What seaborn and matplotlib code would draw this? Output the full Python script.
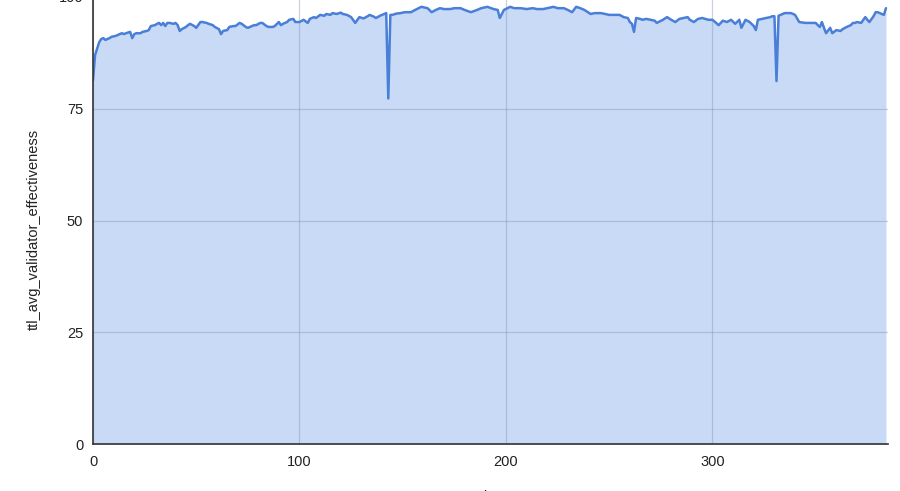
import matplotlib
matplotlib.use("Agg")
import matplotlib.pyplot as plt
import seaborn as sns
import pandas as pd

# Readings from the reference chart
x_vals = [0, 1, 3, 4, 5, 6, 8, 9, 11, 12, 14, 15, 16, 18, 19, 20, 21, 23, 24, 26,
          27, 28, 30, 31, 32, 33, 34, 35, 36, 37, 39, 40, 41, 42, 43, 45, 46, 47, 49, 50,
          52, 53, 55, 56, 58, 59, 61, 62, 63, 65, 66, 68, 69, 71, 72, 74, 75, 77, 78, 79,
          81, 82, 84, 85, 87, 88, 90, 91, 92, 94, 95, 97, 98, 100, 102, 104, 105, 107, 108, 110,
          112, 113, 115, 116, 118, 120, 121, 123, 125, 127, 129, 131, 133, 134, 136, 137, 139, 140, 142, 143,
          144, 145, 147, 149, 151, 154, 156, 159, 162, 164, 166,
          168, 170, 173, 175, 178, 180, 183, 186, 188, 191, 194, 196, 197, 199, 202, 204, 207, 210, 213, 215,
          218, 220, 223, 225, 228, 230, 232, 234, 236, 238, 241, 243, 246, 248, 250, 253, 255, 257, 259, 260,
          261, 262, 263, 265, 266, 268, 270, 272, 273, 276, 278, 280, 282, 284, 286, 288, 289, 291, 293, 295,
          298, 300, 303, 305, 307, 309, 311, 313, 314, 316, 318, 320, 321, 322, 324, 326, 328, 329, 330, 331,
          332, 333, 335, 338, 340, 342, 345, 347, 350, 351, 352, 353, 354, 355, 357, 358, 360, 362, 363, 365,
          367, 368, 369, 370, 372, 374, 375, 376, 378, 379, 380, 381, 383, 384]
effectiveness = [81.4, 87.0, 89.9, 90.6, 90.8, 90.4, 90.8, 91.1, 91.3, 91.5, 91.9, 91.7, 91.9, 92.2, 90.8, 91.7, 91.9, 91.9, 92.2, 92.4,
                 92.6, 93.5, 93.7, 94.0, 94.2, 93.7, 94.2, 93.5, 94.2, 94.2, 94.0, 94.2, 93.7, 92.4, 92.8, 93.3, 93.7, 94.0, 93.5, 93.1,
                 94.4, 94.4, 94.2, 94.0, 93.7, 93.3, 92.8, 91.7, 92.4, 92.6, 93.3, 93.5, 93.5, 94.2, 94.0, 93.3, 93.1, 93.5, 93.7, 93.7,
                 94.2, 94.2, 93.5, 93.3, 93.3, 93.5, 94.4, 93.7, 94.0, 94.4, 94.9, 95.1, 94.4, 94.4, 94.9, 94.2, 95.1, 95.5, 95.3, 96.0,
                 95.8, 96.2, 96.0, 96.4, 96.2, 96.5, 96.2, 96.0, 95.5, 94.2, 95.5, 95.2, 95.7, 96.0, 95.6, 95.3, 95.8, 96.0, 96.4, 77.3,
                 96.0, 96.0, 96.3, 96.4, 96.6, 96.6, 97.1, 97.8, 97.5, 96.6, 97.1,
                 97.5, 97.3, 97.3, 97.5, 97.5, 97.1, 96.6, 97.1, 97.5, 97.8, 97.3, 97.1, 95.3, 97.1, 97.8, 97.5, 97.5, 97.3, 97.5, 97.3,
                 97.3, 97.5, 97.8, 97.5, 97.5, 97.1, 96.6, 97.8, 97.5, 97.1, 96.2, 96.4, 96.4, 96.2, 96.0, 96.0, 96.0, 95.5, 95.3, 94.4,
                 94.0, 92.2, 95.3, 95.1, 94.9, 95.1, 94.9, 94.7, 94.2, 94.9, 95.5, 94.9, 94.4, 95.1, 95.3, 95.5, 94.9, 94.4, 95.1, 95.3,
                 94.9, 94.9, 93.7, 94.7, 94.4, 94.9, 94.0, 94.9, 93.1, 94.9, 94.4, 93.5, 92.6, 94.9, 95.1, 95.3, 95.5, 95.7, 95.7, 81.2,
                 95.8, 96.0, 96.4, 96.4, 96.0, 94.4, 94.2, 94.2, 94.2, 93.7, 93.3, 94.4, 93.1, 91.9, 93.1, 91.9, 92.6, 92.4, 92.8, 93.3,
                 93.7, 94.2, 94.2, 94.4, 94.2, 95.5, 94.9, 94.4, 95.7, 96.6, 96.6, 96.4, 96.0, 97.5]

x_ticks = [0, 100, 200, 300]
y_ticks = [0, 25, 50, 75, 100]
y_label = "ttl_avg_validator_effectiveness"
x_label = "day"

df = pd.DataFrame({"x": x_vals, "y": effectiveness})

sns.set_style("white")
plt.rcParams["font.family"] = ["Liberation Sans", "DejaVu Sans"]

fig = plt.figure(figsize=(9, 4.91), dpi=100)
ax = fig.add_axes([93 / 900, 1 - 444 / 491, (888 - 93) / 900, 447 / 491])

ax.fill_between(df["x"], 0, df["y"], color="#c8daf6", linewidth=0, zorder=1)
sns.lineplot(data=df, x="x", y="y", ax=ax, color="#4a7fd8", linewidth=1.8, zorder=3)

ax.set_xlim(0, 385)
ax.set_ylim(0, 100)
ax.set_xticks(x_ticks)
ax.set_yticks(y_ticks)
ax.grid(True, color="#7f8fa8", alpha=0.4, linewidth=0.9, zorder=2)
ax.set_axisbelow(False)
for line in ax.get_xgridlines() + ax.get_ygridlines():
    line.set_zorder(2)

for s in ["top", "right"]:
    ax.spines[s].set_visible(False)
ax.spines["left"].set_color("#333333")
ax.spines["bottom"].set_color("#333333")
ax.spines["left"].set_linewidth(1.2)
ax.spines["bottom"].set_linewidth(1.2)
ax.spines["left"].set_zorder(4)
ax.spines["bottom"].set_zorder(4)

ax.tick_params(axis="both", length=0, labelsize=10.5, colors="#222222")
ax.tick_params(axis="x", pad=8)
ax.tick_params(axis="y", pad=7)

ax.set_ylabel(y_label, fontsize=10.5, color="#222222")
ax.yaxis.set_label_coords(-0.066, 0.479)
ax.set_xlabel(x_label, fontsize=10.5, color="#222222", labelpad=15)

fig.savefig("out.png", dpi=100)
